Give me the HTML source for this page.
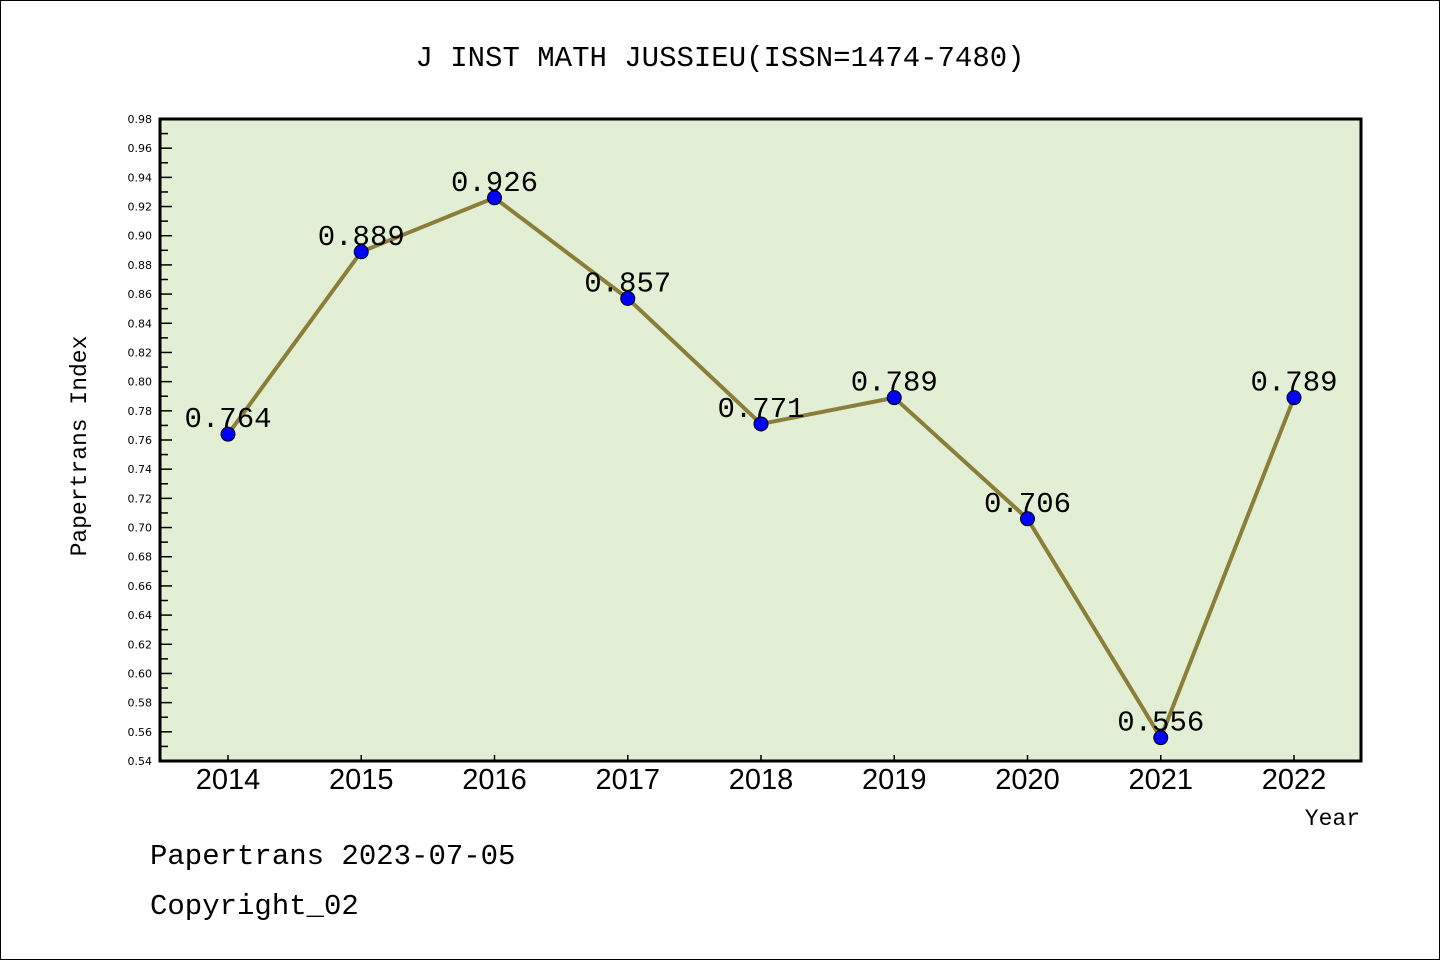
<!DOCTYPE html>
<html><head><meta charset="utf-8"><style>
html,body{margin:0;padding:0;background:#fff}
svg{display:block}
</style></head><body>
<svg width="1440" height="960" xmlns="http://www.w3.org/2000/svg">
<rect x="0.5" y="0.5" width="1439" height="959" fill="#fff" stroke="#000"/>
<text x="720" y="66" text-anchor="middle" font-family="Liberation Mono, monospace" font-size="29">J INST MATH JUSSIEU(ISSN=1474-7480)</text>
<rect x="160" y="119" width="1201" height="642" fill="#e2efd4" stroke="#000" stroke-width="3"/>
<g id="yaxis"></g>
<g id="xaxis"></g>
<g id="series"></g>
<text x="86" y="446" transform="rotate(-90 86 446)" text-anchor="middle" font-family="Liberation Mono, monospace" font-size="23">Papertrans Index</text>
<text x="1360" y="825" text-anchor="end" font-family="Liberation Mono, monospace" font-size="23">Year</text>
<text x="150" y="864" font-family="Liberation Mono, monospace" font-size="29">Papertrans 2023-07-05</text>
<text x="150" y="914" font-family="Liberation Mono, monospace" font-size="29">Copyright_02</text>
</svg>
<script>
const years = ["2014","2015","2016","2017","2018","2019","2020","2021","2022"];
const values = [0.764,0.889,0.926,0.857,0.771,0.789,0.706,0.556,0.789];
const valueLabels = ["0.764","0.889","0.926","0.857","0.771","0.789","0.706","0.556","0.789"];
const yMin = 0.54, yMax = 0.98;
const NS = "http://www.w3.org/2000/svg";
const L=160,R=1361,T=119,B=761;
const x0=228,x1=1294;
function xs(i){return x0+(x1-x0)*i/(years.length-1);}
function ys(v){return B-(v-yMin)/(yMax-yMin)*(B-T);}
function mk(tag,attrs,parent,text){const e=document.createElementNS(NS,tag);for(const k in attrs)e.setAttribute(k,attrs[k]);if(text!==undefined)e.textContent=text;parent.appendChild(e);return e;}
const ya=document.getElementById('yaxis');
for(let k=0;k<=44;k++){
  const v=yMin+k*0.01, y=ys(v);
  const major=k%2===0;
  if(k>0&&k<44){const t=mk('line',{x1:L,x2:L+(major?12:8),y1:y,y2:y,stroke:'#000','stroke-width':1.5},ya);
  
  }
  if(major){const lb=mk('text',{x:152,y:y+4,'text-anchor':'end','font-family':'DejaVu Sans, sans-serif','font-size':11},ya,v.toFixed(2));
  
  }
}
const xa=document.getElementById('xaxis');
years.forEach((yr,i)=>{
  const x=xs(i);
  const t=mk('line',{x1:x,x2:x,y1:B,y2:B-6,stroke:'#000','stroke-width':1.5},xa);
  
  
  const lb=mk('text',{x:x,y:789,'text-anchor':'middle','font-family':'Liberation Sans, sans-serif','font-size':29},xa,yr);
  
  
});
const sg=document.getElementById('series');
const pts=values.map((v,i)=>xs(i)+','+ys(v)).join(' ');
const pl=mk('polyline',{points:pts,fill:'none',stroke:'#8b7d3a','stroke-width':4,'stroke-linejoin':'round'},sg);


values.forEach((v,i)=>{
  const c=mk('circle',{cx:xs(i),cy:ys(v),r:7,fill:'#0000ff',stroke:'#000','stroke-width':1},sg);
  
  
  const lb=mk('text',{x:xs(i),y:ys(v)-7,'text-anchor':'middle','font-family':'Liberation Mono, monospace','font-size':29},sg,valueLabels[i]);
  
  
});
</script>
</body></html>
